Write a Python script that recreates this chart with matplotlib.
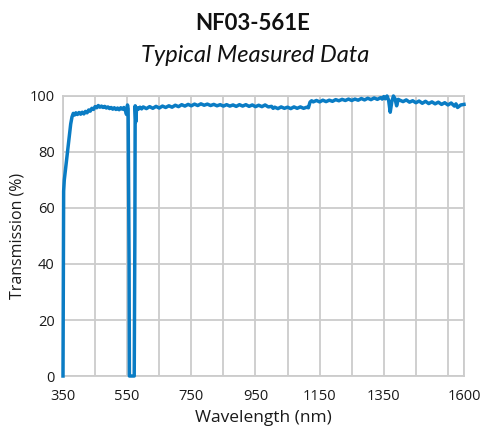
import matplotlib
matplotlib.use("Agg")
import matplotlib.pyplot as plt

plt.rcParams['font.family'] = ['Open Sans', 'DejaVu Sans']

title = "NF03-561E"
subtitle = "Typical Measured Data"
xlabel = "Wavelength (nm)"
ylabel = "Transmission (%)"
xticks = [350, 550, 750, 950, 1150, 1350, 1600]
yticks = [0, 20, 40, 60, 80, 100]

wavelength = [
    350, 351, 352, 354, 358, 362, 366, 370, 374, 378, 382, 386, 390, 395,
    400, 405, 410, 415, 420, 425, 430, 435, 440, 445, 450, 455, 460, 465,
    470, 475, 480, 485, 490, 495, 500, 505, 510, 515, 520, 525, 530, 535,
    540, 545, 548, 551, 553, 556, 557, 560, 565, 570, 572, 574, 575, 577,
    579, 582, 585, 590, 595, 600, 610, 620, 630, 640, 650, 660, 670, 680,
    690, 700, 710, 720, 730, 740, 750, 760, 770, 780, 790, 800, 810, 820,
    830, 840, 850, 860, 870, 880, 890, 900, 910, 920, 930, 940, 950, 960,
    970, 980, 990, 1000, 1005, 1010, 1020, 1030, 1040, 1050, 1060, 1070,
    1080, 1090, 1100, 1110, 1115, 1120, 1125, 1130, 1140, 1150, 1160, 1170,
    1180, 1190, 1200, 1210, 1220, 1230, 1240, 1250, 1260, 1270, 1280, 1290,
    1300, 1310, 1320, 1330, 1340, 1345, 1350, 1355, 1360, 1365, 1370, 1375,
    1380, 1385, 1390, 1395, 1400, 1410, 1420, 1430, 1440, 1450, 1460, 1470,
    1480, 1490, 1500, 1510, 1520, 1530, 1540, 1550, 1560, 1570, 1575, 1580,
    1590, 1600,
]
transmission = [
    0, 35, 66, 70, 74, 78, 82, 86, 90, 92.5, 93.8, 93.2, 94.0, 93.4,
    94.1, 93.5, 94.2, 93.6, 94.5, 94.0, 95.0, 94.6, 95.6, 95.2, 96.2, 95.8, 96.6, 96.0,
    96.4, 95.9, 96.3, 95.7, 96.1, 95.5, 95.9, 95.3, 95.8, 95.2, 95.7, 95.1, 95.8, 95.3,
    95.9, 94.6, 93.4, 96.8, 95.5, 40, 0, 0, 0, 0, 0, 50, 96.5, 90.8,
    95.0, 95.8, 95.3, 96.0, 95.4, 96.1, 95.5, 96.2, 95.6, 96.3, 95.7, 96.4, 95.9, 96.5,
    96.0, 96.7, 96.2, 96.9, 96.4, 97.0, 96.5, 97.1, 96.6, 97.2, 96.7, 97.1, 96.6, 97.0,
    96.5, 96.9, 96.4, 96.9, 96.4, 96.8, 96.3, 96.9, 96.4, 96.9, 96.3, 96.8, 96.2, 96.7,
    96.2, 96.8, 96.1, 96.3, 95.6, 96.0, 95.5, 96.1, 95.6, 96.0, 95.5, 96.1,
    95.6, 96.1, 95.6, 96.0, 95.8, 97.8, 98.3, 97.9, 98.4, 97.9, 98.5, 98.0,
    98.5, 98.1, 98.7, 98.3, 98.8, 98.4, 98.9, 98.4, 98.9, 98.5, 99.1, 98.6,
    99.2, 98.7, 99.3, 98.8, 99.4, 98.9, 99.8, 99.0, 100, 98.5, 94.2, 98.0,
    100, 99.0, 96.5, 98.8, 98.5, 98.0, 98.6, 97.8, 98.3, 97.6, 98.2, 97.4,
    98.1, 97.3, 97.9, 97.2, 97.8, 97.0, 97.6, 96.8, 97.5, 96.4, 97.2, 95.9,
    96.8, 97.0,
]

fig = plt.figure(figsize=(4.83, 4.26), dpi=100)
ax = fig.add_axes([63/483, 1-376/426, (464-63)/483, (376-96)/426])

ax.plot(wavelength, transmission, color='#0a7cc4', lw=2.5,
        solid_joinstyle='round', clip_on=False, zorder=3)

ax.set_xlim(350, 1600)
ax.set_ylim(0, 100)
ax.set_xticks(xticks)
ax.set_yticks(yticks)
ax.set_xticks(list(range(450, 1600, 100)), minor=True)
ax.grid(True, which='both', color='#cccccc', lw=1.3)
ax.set_axisbelow(True)
for s in ax.spines.values():
    s.set_color('#cccccc')
    s.set_linewidth(1.3)
ax.tick_params(which='both', length=0, labelsize=10.5, colors='#1a1a1a')
ax.tick_params(axis='x', pad=9.5)
ax.tick_params(axis='y', pad=6)

ax.set_xlabel(xlabel, fontsize=12.5, color='#1a1a1a', labelpad=4)
ax.set_ylabel(ylabel, fontsize=11.5, color='#1a1a1a', labelpad=3)

fig.text(253/483, 1-23/426, title, ha='center', va='center', fontsize=16,
         fontweight='bold', color='#111111', family=['Lato', 'DejaVu Sans'])
fig.text(255/483, 1-55/426, subtitle, ha='center', va='center', fontsize=17,
         style='italic', color='#111111', family=['Lato', 'DejaVu Sans'])

fig.savefig('out.png', dpi=100)
